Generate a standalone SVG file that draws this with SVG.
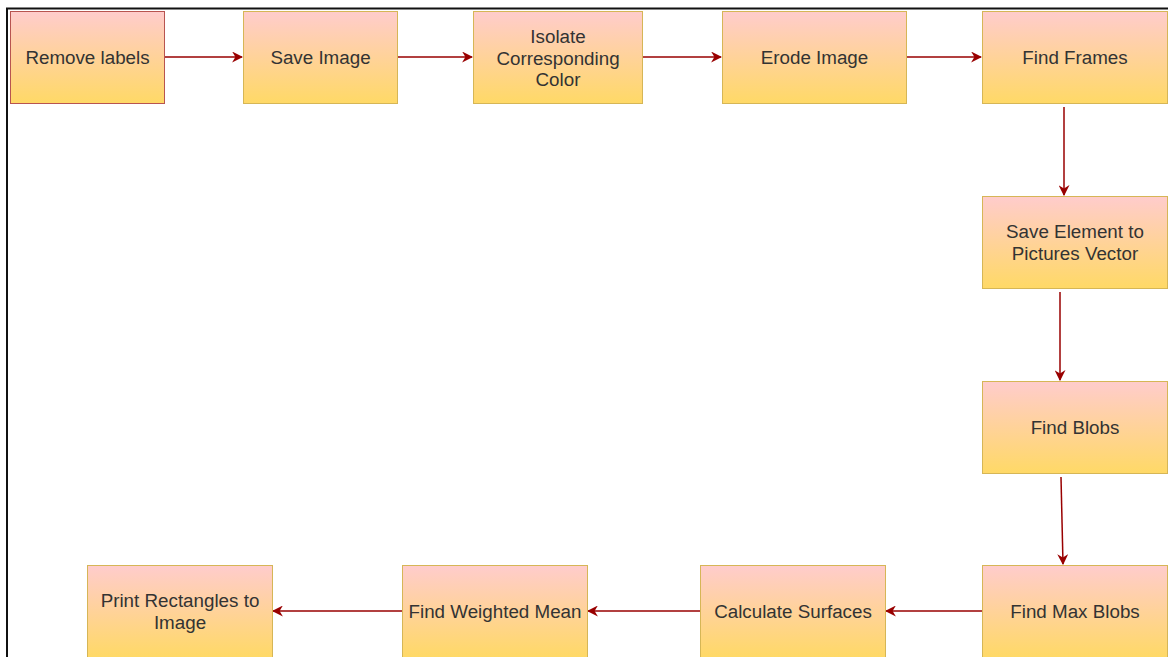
<svg xmlns="http://www.w3.org/2000/svg" width="1168" height="657" viewBox="0 0 1168 657">
<style>
.n{stroke:#d6b656;stroke-width:1;fill:url(#g)}
.r{stroke:#b85450}
.t{font-family:"Liberation Sans",Arial,sans-serif;font-size:18.8px;fill:#333;text-anchor:middle}
.c{stroke:#990000;stroke-width:1.5;fill:none;marker-end:url(#a)}
</style>
<defs>
<linearGradient id="g" x1="0" y1="0" x2="0" y2="1">
<stop offset="0" stop-color="#ffcccc"/>
<stop offset="1" stop-color="#ffd966"/>
</linearGradient>
<marker id="a" viewBox="0 0 10 10" refX="9" refY="5" markerWidth="11" markerHeight="11" markerUnits="userSpaceOnUse" orient="auto">
<path d="M0,0 L10,5 L0,10 L3,5 Z" fill="#990000"/>
</marker>
</defs>
<rect width="1168" height="657" fill="#fff"/>
<path d="M7,657 V8.5 H1168" stroke="#111" stroke-width="2" fill="none"/>
<g id="connectors">
<path class="c" d="M164,57 H242"/>
<path class="c" d="M397,57 H472"/>
<path class="c" d="M642,57 H721"/>
<path class="c" d="M906,57 H981"/>
<path class="c" d="M1064,107 V195"/>
<path class="c" d="M1060,292 V380"/>
<path class="c" d="M1061,477 L1063,564"/>
<path class="c" d="M982,611 H886"/>
<path class="c" d="M700,611 H588"/>
<path class="c" d="M402,611 H273"/>
</g>
<g id="n1"><rect class="n r" x="10.5" y="11.5" width="154" height="92"/><text class="t" x="87.5" y="64">Remove labels</text></g>
<g id="n2"><rect class="n" x="243.5" y="11.5" width="154" height="92"/><text class="t" x="320.5" y="64">Save Image</text></g>
<g id="n3"><rect class="n" x="473.5" y="11.5" width="169" height="92"/><text class="t" x="558" y="43">Isolate</text><text class="t" x="558" y="64.5">Corresponding</text><text class="t" x="558" y="86">Color</text></g>
<g id="n4"><rect class="n" x="722.5" y="11.5" width="184" height="92"/><text class="t" x="814.5" y="64">Erode Image</text></g>
<g id="n5"><rect class="n" x="982.5" y="11.5" width="185" height="92"/><text class="t" x="1075" y="64">Find Frames</text></g>
<g id="n6"><rect class="n" x="982.5" y="196.5" width="185" height="92"/><text class="t" x="1075" y="238">Save Element to</text><text class="t" x="1075" y="259.5">Pictures Vector</text></g>
<g id="n7"><rect class="n" x="982.5" y="381.5" width="185" height="92"/><text class="t" x="1075" y="434">Find Blobs</text></g>
<g id="n8"><rect class="n" x="982.5" y="565.5" width="185" height="92"/><text class="t" x="1075" y="618">Find Max Blobs</text></g>
<g id="n9"><rect class="n" x="700.5" y="565.5" width="185" height="92"/><text class="t" x="793" y="618">Calculate Surfaces</text></g>
<g id="n10"><rect class="n" x="402.5" y="565.5" width="185" height="92"/><text class="t" x="495" y="618">Find Weighted Mean</text></g>
<g id="n11"><rect class="n" x="87.5" y="565.5" width="185" height="92"/><text class="t" x="180" y="607">Print Rectangles to</text><text class="t" x="180" y="628.5">Image</text></g>
</svg>
